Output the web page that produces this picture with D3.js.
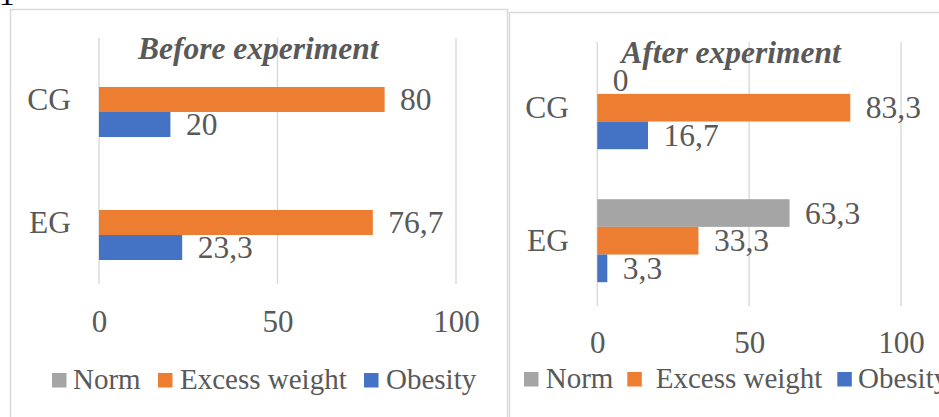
<!DOCTYPE html>
<html>
<head>
<meta charset="utf-8">
<script src="https://cdn.jsdelivr.net/npm/d3@7"></script>
<style>
  html, body { margin: 0; padding: 0; background: #fff; }
  svg { display: block; font-family: "Liberation Serif", "Times New Roman", serif; }
</style>
</head>
<body>
<svg id="chart" width="939" height="417"></svg>
<script>
// Body-weight groups before and after the experiment (percent of group)
const categories = ["CG", "EG"];
const seriesNames = ["Norm", "Excess weight", "Obesity"];
const seriesColors = ["#A5A5A5", "#ED7D31", "#4472C4"];
const tickValues = [0, 50, 100];

// Before experiment: no "Norm" values recorded
const beforeNorm = [null, null];
const beforeExcess = [80, 76.7];
const beforeObesity = [20, 23.3];

// After experiment
const afterNorm = [0, 63.3];
const afterExcess = [83.3, 33.3];
const afterObesity = [16.7, 3.3];

const fmt = v => String(v).replace(".", ",");

const svg = d3.select("#chart");
const textColor = "#595959";
const gridColor = "#d9d9d9";

// stray glyph from the surrounding document above the charts
svg.append("text").attr("x", -1).attr("y", 5)
  .attr("font-size", 31).attr("fill", "#000").text("1");

const panels = [
  {
    title: "Before experiment",
    values: [beforeNorm, beforeExcess, beforeObesity],
    frame: { x: 10.5, y: 9.5, w: 497, h: 440 },
    xRange: [99, 456],
    yRange: [38, 284],
    gridTop: 38, gridBottom: 284,
    groupFrac: 0.61,
    titleX: 258.3, titleY: 59,
    tickY: 332,
    catX: 71,
    legendY: 389,
    legendX: [52, 158, 364],
    legendTextGap: [21, 22, 22]
  },
  {
    title: "After experiment",
    values: [afterNorm, afterExcess, afterObesity],
    frame: { x: 509.5, y: 12.5, w: 460, h: 440 },
    xRange: [597.3, 901],
    yRange: [41.2, 307.2],
    gridTop: 41.7, gridBottom: 306,
    groupFrac: 0.624,
    titleX: 731, titleY: 63.3,
    tickY: 353.3,
    catX: 569,
    legendY: 388,
    legendX: [524, 627.3, 837.3],
    legendTextGap: [21.7, 28.4, 20.7]
  }
];

panels.forEach(p => {
  const g = svg.append("g");

  g.append("rect")
    .attr("x", p.frame.x).attr("y", p.frame.y)
    .attr("width", p.frame.w).attr("height", p.frame.h)
    .attr("fill", "#fff").attr("stroke", gridColor).attr("stroke-width", 1.5);

  const x = d3.scaleLinear().domain([0, 100]).range(p.xRange);
  const y = d3.scaleBand().domain(categories).range(p.yRange).padding(0);
  const step = y.bandwidth();
  const groupH = step * p.groupFrac;
  const inner = d3.scaleBand().domain(seriesNames)
    .range([(step - groupH) / 2, (step + groupH) / 2]).padding(0);

  // vertical gridlines
  g.append("g").selectAll("line").data(tickValues).join("line")
    .attr("x1", d => x(d)).attr("x2", d => x(d))
    .attr("y1", p.gridTop).attr("y2", p.gridBottom)
    .attr("stroke", gridColor).attr("stroke-width", 1.4);

  // x-axis tick labels
  const axis = d3.axisBottom(x).tickValues(tickValues).tickSize(0).tickPadding(0);
  const ag = g.append("g").attr("transform", `translate(0,${p.tickY})`).call(axis);
  ag.attr("font-family", null);
  ag.select(".domain").remove();
  ag.selectAll("text")
    .attr("dy", 0).attr("y", 0)
    .attr("font-size", 31).attr("font-family", "Liberation Serif")
    .attr("fill", textColor);

  // category labels
  g.append("g").selectAll("text").data(categories).join("text")
    .attr("x", p.catX)
    .attr("y", d => y(d) + step / 2)
    .attr("dy", "0.34em")
    .attr("text-anchor", "end")
    .attr("font-size", 31.5).attr("fill", textColor)
    .text(d => d);

  // bars and value labels
  const cells = [];
  seriesNames.forEach((s, si) => {
    categories.forEach((c, ci) => {
      cells.push({ s, si, c, v: p.values[si][ci] });
    });
  });
  const present = cells.filter(d => d.v !== null);

  g.append("g").selectAll("rect").data(present).join("rect")
    .attr("x", x(0))
    .attr("y", d => y(d.c) + inner(d.s))
    .attr("width", d => x(d.v) - x(0))
    .attr("height", inner.bandwidth())
    .attr("fill", d => seriesColors[d.si]);

  g.append("g").selectAll("text").data(present).join("text")
    .attr("x", d => x(d.v) + 15.5)
    .attr("y", d => y(d.c) + inner(d.s) + inner.bandwidth() / 2)
    .attr("dy", "0.34em")
    .attr("font-size", 31.5).attr("fill", textColor)
    .text(d => fmt(d.v));

  // title
  g.append("text")
    .attr("x", p.titleX).attr("y", p.titleY)
    .attr("text-anchor", "middle")
    .attr("font-size", 31.5).attr("font-weight", "bold").attr("font-style", "italic")
    .attr("fill", textColor)
    .text(p.title);

  // legend
  const lg = g.append("g");
  seriesNames.forEach((s, i) => {
    lg.append("rect")
      .attr("x", p.legendX[i]).attr("y", p.legendY - 16)
      .attr("width", 14.5).attr("height", 14.5)
      .attr("fill", seriesColors[i]);
    lg.append("text")
      .attr("x", p.legendX[i] + p.legendTextGap[i]).attr("y", p.legendY)
      .attr("font-size", 29).attr("fill", textColor)
      .text(s);
  });
});
</script>
</body>
</html>
